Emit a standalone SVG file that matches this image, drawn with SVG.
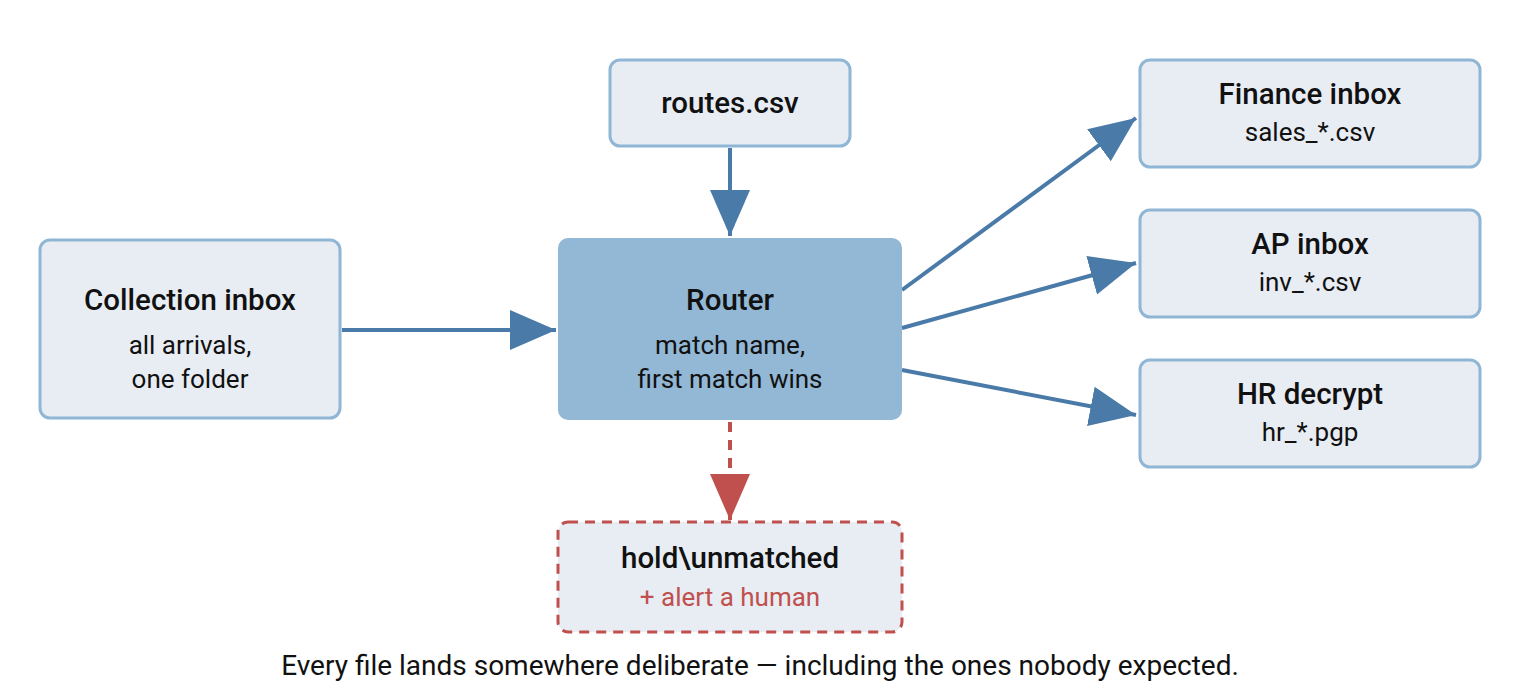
<svg xmlns="http://www.w3.org/2000/svg" width="1520" height="690" viewBox="0 0 1520 690">
<style>
text{font-family:Roboto,"Liberation Sans",sans-serif;text-anchor:middle;fill:#111}
.t{font-size:29.5px;font-weight:500}
.s{font-size:26px}
.box{fill:#e8edf4;stroke:#8fb6d4;stroke-width:3}
.c{stroke:#4a7aa8;stroke-width:4;fill:none}
</style>
<defs>
<marker id="a" markerUnits="userSpaceOnUse" markerWidth="48" markerHeight="44" refX="46" refY="22" orient="auto"><path d="M0,2 L46,22 L0,42 Z" fill="#4a7aa8"/></marker>
<marker id="r" markerUnits="userSpaceOnUse" markerWidth="48" markerHeight="44" refX="46" refY="22" orient="auto"><path d="M0,2 L46,22 L0,42 Z" fill="#c0504d"/></marker>
</defs>
<rect width="1520" height="690" fill="#fff"/>
<g id="connectors">
<line class="c" x1="342" y1="330" x2="556" y2="330" marker-end="url(#a)"/>
<line class="c" x1="730" y1="148" x2="730" y2="236" marker-end="url(#a)"/>
<line class="c" x1="902" y1="290" x2="1136" y2="118" marker-end="url(#a)"/>
<line class="c" x1="902" y1="328" x2="1136" y2="263" marker-end="url(#a)"/>
<line class="c" x1="902" y1="370" x2="1136" y2="415" marker-end="url(#a)"/>
<line x1="730" y1="422" x2="730" y2="520" stroke="#c0504d" stroke-width="4" stroke-dasharray="10,8" marker-end="url(#r)"/>
</g>
<g id="collection"><rect class="box" x="40" y="240" width="300" height="178" rx="10"/><text class="t" x="190" y="310">Collection inbox</text><text class="s" x="190" y="354">all arrivals,</text><text class="s" x="190" y="388">one folder</text></g>
<g id="router"><rect x="558" y="238" width="344" height="182" rx="10" fill="#93b8d5"/><text class="t" x="730" y="310">Router</text><text class="s" x="730" y="354">match name,</text><text class="s" x="730" y="388">first match wins</text></g>
<g id="routes"><rect class="box" x="610" y="60" width="240" height="86" rx="10"/><text class="t" x="730" y="113">routes.csv</text></g>
<g id="finance"><rect class="box" x="1140" y="60" width="340" height="107" rx="10"/><text class="t" x="1310" y="104">Finance inbox</text><text class="s" x="1310" y="141">sales_*.csv</text></g>
<g id="ap"><rect class="box" x="1140" y="210" width="340" height="107" rx="10"/><text class="t" x="1310" y="254">AP inbox</text><text class="s" x="1310" y="291">inv_*.csv</text></g>
<g id="hr"><rect class="box" x="1140" y="360" width="340" height="107" rx="10"/><text class="t" x="1310" y="404">HR decrypt</text><text class="s" x="1310" y="441">hr_*.pgp</text></g>
<g id="hold"><rect x="558" y="522" width="344" height="110" rx="10" fill="#e8edf4" stroke="#c0504d" stroke-width="3" stroke-dasharray="10,7"/><text class="t" x="730" y="568">hold\unmatched</text><text class="s" x="730" y="606" style="fill:#c0504d">+ alert a human</text></g>
<text class="s" x="760" y="675" style="font-size:28px">Every file lands somewhere deliberate — including the ones nobody expected.</text>
</svg>
